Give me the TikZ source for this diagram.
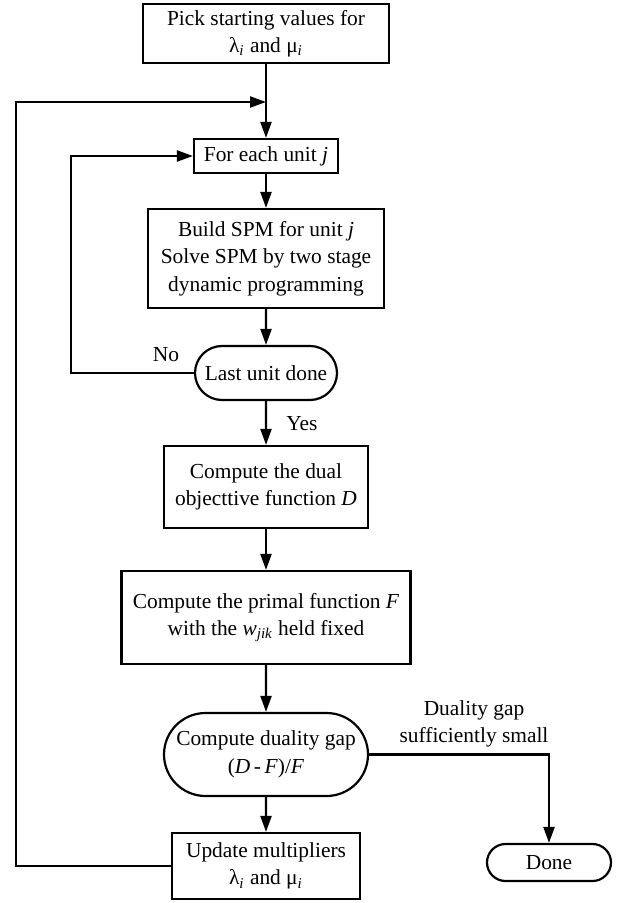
\documentclass[tikz,border=0pt]{standalone}
\usepackage{fontspec}
\setmainfont{Liberation Serif}
\usetikzlibrary{shapes.misc,arrows.meta}
\newcommand{\subit}[1]{\textsubscript{\itshape #1}}

\begin{document}
\begin{tikzpicture}[x=0.5pt, y=-0.5pt,
    font=\fontsize{10.7}{13.7}\selectfont,
    procbox/.style={draw=black, line width=1.1pt, align=center, inner sep=0pt},
    termbox/.style={draw=black, line width=1.1pt, align=center, rounded rectangle, inner sep=0pt},
    flow/.style={line width=1.1pt, -{Triangle[length=8pt,width=5.5pt]}}]
    \useasboundingbox (0,0) rectangle (625,903);

    % main column
    \node[procbox, minimum width=123pt, minimum height=29.5pt] at (266,33.5) (start) {Pick starting values for\\λ\subit{i}\ and μ\subit{i}};
    \node[procbox, minimum width=72pt, minimum height=17pt] at (266,156) (unit) {For each unit \textit{j}};
    \node[procbox, minimum width=118pt, minimum height=49.5pt] at (266,258.5) (spm) {Build SPM for unit \textit{j}\\Solve SPM by two stage\\dynamic programming};
    \node[termbox, minimum width=71pt, minimum height=27pt] at (266,373) (last) {Last unit done};
    \node[procbox, minimum width=102pt, minimum height=41pt] at (266,487) (dual) {Compute the dual\\objecttive function \textit{D}};
    \node[procbox, minimum width=144.5pt, minimum height=46.5pt] at (266,617.5) (primal) {Compute the primal function \textit{F}\\with the \textit{w}\subit{jik}\ held fixed};
    \node[termbox, minimum width=102pt, minimum height=41.5pt] at (266,754.5) (gap) {Compute duality gap\\(\textit{D}\,-\,\textit{F})/\textit{F}};
    \node[procbox, minimum width=94pt, minimum height=33pt] at (266,866) (update) {Update multipliers\\λ\subit{i}\ and μ\subit{i}};
    \node[termbox, minimum width=62pt, minimum height=18.5pt] at (549,862.5) (done) {Done};

    % labels
    \node at (166,355) (no) {No};
    \node at (302,424) (yes) {Yes};
    \node[align=center] at (474,724) (small) {Duality gap\\sufficiently small};

    \coordinate (outer) at (266,102);

    \draw[flow] (start) -- (unit);
    \draw[flow] (unit) -- (spm);
    \draw[flow] (spm) -- (last);
    \draw[flow] (last) -- (dual);
    \draw[flow] (dual) -- (primal);
    \draw[flow] (primal) -- (gap);
    \draw[flow] (gap) -- (update);
    \draw[flow] (gap.east) -| (done.north);
    \draw[flow] (last.west) -- ++(-123,0) |- (unit.west);
    \draw[flow] (update.west) -- ++(-155,0) |- (outer);

\end{tikzpicture}
\end{document}
